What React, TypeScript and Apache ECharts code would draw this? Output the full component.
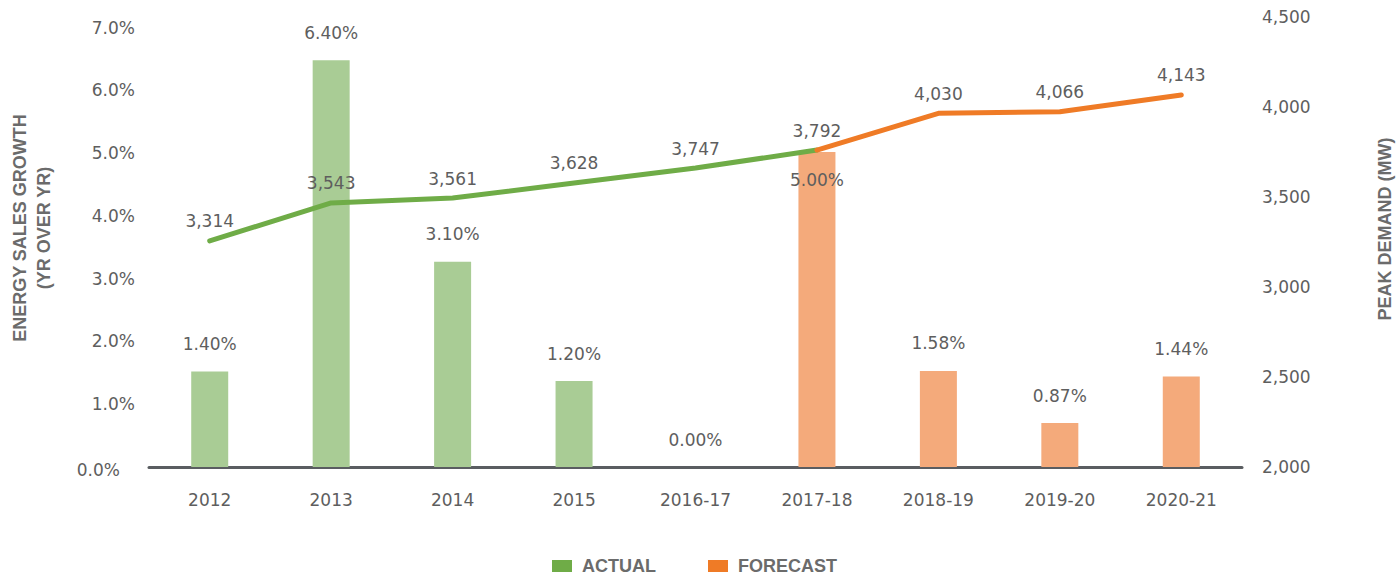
import React, { useEffect, useRef } from "react";
import * as echarts from "echarts";

const categories = ["2012", "2013", "2014", "2015", "2016-17", "2017-18", "2018-19", "2019-20", "2020-21"];
// bar heights as drawn (energy sales growth, %)
const actualGrowth = [1.52, 6.48, 3.27, 1.37, 0, null, null, null, null];
const forecastGrowth = [null, null, null, null, null, 5.02, 1.53, 0.7, 1.44];
// printed labels of the bars
const growthLabels = ["1.40%", "6.40%", "3.10%", "1.20%", "0.00%", "5.00%", "1.58%", "0.87%", "1.44%"];
// peak demand line as drawn (MW)
const actualPeak = [3256, 3467, 3494, 3578, 3661, 3761, null, null, null];
const forecastPeak = [null, null, null, null, null, 3761, 3965, 3974, 4067];
// printed labels of the line
const peakLabels = ["3,314", "3,543", "3,561", "3,628", "3,747", "3,792", "4,030", "4,066", "4,143"];
const leftTicks = [0, 1, 2, 3, 4, 5, 6, 7];
const rightTicks = [2000, 2500, 3000, 3500, 4000, 4500];

const FONT = "'DejaVu Sans', sans-serif";
const BOLD = "'Liberation Sans', Arial, sans-serif";
const TXT = "#5e5e5e";
const TITLE = "#6b6b6b";

export default function App() {
  const ref = useRef<HTMLDivElement>(null);
  useEffect(() => {
    document.body.style.margin = "0";
    const chart = echarts.init(ref.current!, null, { renderer: "svg" });
    const dash = (a: (number | null)[]) => a.map((v) => (v === null ? "-" : v));
    chart.setOption({
      animation: false,
      backgroundColor: "#ffffff",
      grid: { left: 149, right: 156, top: 17, bottom: 109 },
      legend: {
        left: 552,
        top: 557,
        padding: 0,
        itemWidth: 20,
        itemHeight: 12,
        itemGap: 52,
        textStyle: { fontFamily: BOLD, fontWeight: "bold", fontSize: 18, color: TITLE, padding: [0, 0, 0, 5] },
        data: [
          { name: "ACTUAL", icon: "rect", itemStyle: { color: "#6fac47" } },
          { name: "FORECAST", icon: "rect", itemStyle: { color: "#ef7b26" } },
        ],
      },
      graphic: [
        {
          type: "text",
          x: 19.5,
          y: 228,
          rotation: Math.PI / 2,
          style: { text: "ENERGY SALES GROWTH", font: `bold 18px ${BOLD}`, fill: TITLE, textAlign: "center", textVerticalAlign: "middle" },
        },
        {
          type: "text",
          x: 44,
          y: 228,
          rotation: Math.PI / 2,
          style: { text: "(YR OVER YR)", font: `bold 18px ${BOLD}`, fill: TITLE, textAlign: "center", textVerticalAlign: "middle" },
        },
        {
          type: "text",
          x: 1385,
          y: 229,
          rotation: Math.PI / 2,
          style: { text: "PEAK DEMAND (MW)", font: `bold 18px ${BOLD}`, fill: TITLE, textAlign: "center", textVerticalAlign: "middle" },
        },
      ],
      xAxis: {
        type: "category",
        data: categories,
        axisTick: { show: false },
        axisLine: { lineStyle: { color: "#5a5d61", width: 3 } },
        axisLabel: { color: TXT, fontFamily: FONT, fontSize: 17, margin: 24 },
      },
      yAxis: [
        {
          type: "value",
          min: 0,
          max: 7.17,
          interval: 1,
          splitLine: { show: false },
          axisLine: { show: false },
          axisTick: { show: false },
          axisLabel: {
            color: TXT,
            fontFamily: FONT,
            fontSize: 17,
            margin: 14,
            formatter: (v: number) => {
              const r = Math.round(v);
              if (Math.abs(v - r) > 1e-6 || !leftTicks.includes(r)) return "";
              return r === 0 ? "{z|0.0%}" : r.toFixed(1) + "%";
            },
            rich: { z: { color: TXT, fontFamily: FONT, fontSize: 17, padding: [6, 15, 0, 0] } },
          },
        },
        {
          type: "value",
          position: "right",
          min: 2000,
          max: 4500,
          interval: 500,
          splitLine: { show: false },
          axisLine: { show: false },
          axisTick: { show: false },
          axisLabel: {
            color: TXT,
            fontFamily: FONT,
            fontSize: 17,
            margin: 20,
            formatter: (v: number) => (rightTicks.includes(v) ? v.toLocaleString("en-US") : ""),
          },
        },
      ],
      series: [
        {
          name: "ACTUAL",
          type: "bar",
          data: dash(actualGrowth),
          barWidth: 37,
          itemStyle: { color: "#a9cc95" },
          label: {
            show: true,
            position: "top",
            distance: 19,
            color: TXT,
            fontFamily: FONT,
            fontSize: 17,
            formatter: (p: any) => growthLabels[p.dataIndex],
          },
        },
        {
          name: "FORECAST",
          type: "bar",
          barGap: "-100%",
          data: dash(forecastGrowth).map((v, i) =>
            i === 5 ? { value: v, label: { position: "insideTop", distance: 20 } } : v
          ),
          barWidth: 37,
          itemStyle: { color: "#f4aa7b" },
          label: {
            show: true,
            position: "top",
            distance: 19,
            color: TXT,
            fontFamily: FONT,
            fontSize: 17,
            formatter: (p: any) => growthLabels[p.dataIndex],
          },
        },
        {
          name: "ACTUAL",
          type: "line",
          yAxisIndex: 1,
          data: dash(actualPeak),
          symbol: "circle",
          symbolSize: 0,
          showSymbol: true,
          itemStyle: { color: "#6fac47" },
          lineStyle: { color: "#6fac47", width: 5, cap: "round", join: "round" },
          label: {
            show: true,
            position: "top",
            distance: 11,
            color: TXT,
            fontFamily: FONT,
            fontSize: 17,
            formatter: (p: any) => peakLabels[p.dataIndex],
          },
        },
        {
          name: "FORECAST",
          type: "line",
          yAxisIndex: 1,
          data: dash(forecastPeak),
          symbol: "circle",
          symbolSize: 0,
          showSymbol: true,
          itemStyle: { color: "#ef7b26" },
          lineStyle: { color: "#ef7b26", width: 5, cap: "round", join: "round" },
          label: {
            show: true,
            position: "top",
            distance: 11,
            color: TXT,
            fontFamily: FONT,
            fontSize: 17,
            formatter: (p: any) => (p.dataIndex > 5 ? peakLabels[p.dataIndex] : ""),
          },
        },
      ],
    });
    return () => chart.dispose();
  }, []);
  return <div ref={ref} style={{ width: 1398, height: 576 }} />;
}
